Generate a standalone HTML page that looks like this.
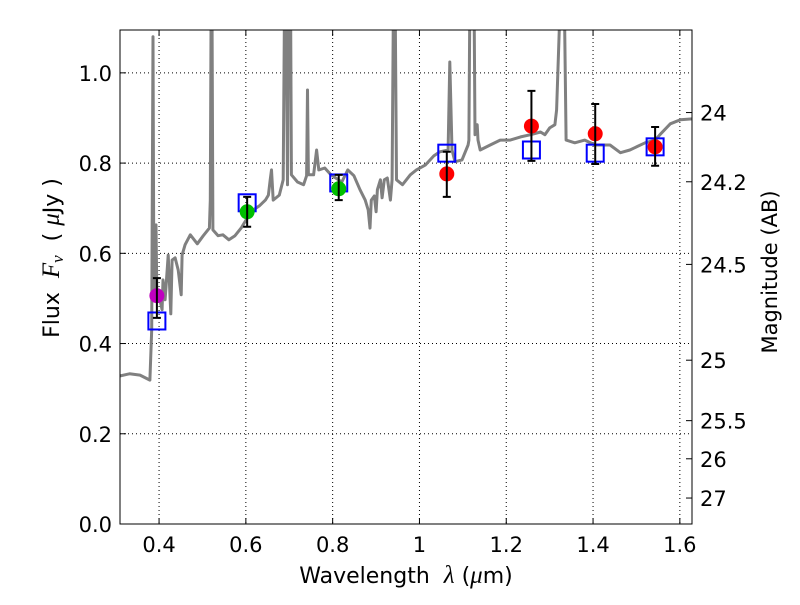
<!DOCTYPE html>
<html><head><meta charset="utf-8"><style>
body{margin:0;background:#fff}
svg text{font-family:"DejaVu Sans","Liberation Sans",sans-serif;fill:#000;white-space:pre}
</style></head><body>
<svg id="chart" width="800" height="600" xmlns="http://www.w3.org/2000/svg" xml:space="preserve">
<defs><clipPath id="clip"><rect x="120" y="30" width="572" height="494"/></clipPath></defs>
<rect width="800" height="600" fill="#fff"/>
<g id="grid"></g>
<g id="plot" clip-path="url(#clip)"></g>
<g id="marks"></g>
<rect x="120" y="30" width="572" height="494" fill="none" stroke="#000" stroke-width="1"/>
<g id="axes"></g>
<text x="406" y="583" font-size="22" text-anchor="middle">Wavelength  <tspan font-family="Liberation Serif" font-style="italic" font-size="25">λ</tspan> (<tspan font-family="Liberation Serif" font-style="italic" font-size="25">μ</tspan>m)</text>
<text transform="translate(59,258) rotate(-90)" font-size="22" text-anchor="middle">Flux  <tspan font-family="Liberation Serif" font-style="italic" font-size="25">F</tspan><tspan font-family="Liberation Serif" font-style="italic" font-size="17" dy="4">ν</tspan><tspan dy="-4">  ( </tspan><tspan font-family="Liberation Serif" font-style="italic" font-size="25">μ</tspan>Jy )</text>
<text transform="translate(777,272) rotate(-90)" font-size="21" text-anchor="middle">Magnitude (AB)</text>
</svg>
<script>
const specLam=[0.309,0.332,0.356,0.379,0.383,0.386,0.388,0.393,0.395,0.402,0.407,0.409,0.414,0.421,0.427,0.430,0.437,0.444,0.451,0.453,0.460,0.472,0.488,0.502,0.516,0.518,0.520,0.522,0.524,0.536,0.547,0.561,0.575,0.589,0.603,0.617,0.631,0.645,0.652,0.656,0.659,0.663,0.677,0.686,0.689,0.693,0.696,0.698,0.703,0.705,0.719,0.733,0.740,0.742,0.744,0.756,0.763,0.768,0.782,0.794,0.807,0.821,0.835,0.849,0.863,0.875,0.882,0.886,0.889,0.896,0.900,0.903,0.910,0.914,0.919,0.926,0.933,0.937,0.940,0.944,0.947,0.961,0.979,0.993,1.014,1.033,1.047,1.066,1.070,1.075,1.082,1.098,1.112,1.114,1.116,1.126,1.128,1.133,1.135,1.140,1.163,1.186,1.209,1.233,1.256,1.279,1.289,1.300,1.312,1.316,1.324,1.334,1.338,1.358,1.381,1.405,1.439,1.463,1.485,1.520,1.543,1.554,1.578,1.601,1.629];
const specFlux=[0.328,0.333,0.330,0.319,0.430,1.080,0.497,0.663,0.497,0.497,0.475,0.541,0.497,0.596,0.466,0.585,0.590,0.563,0.508,0.596,0.619,0.641,0.621,0.639,0.656,0.718,1.15,1.15,0.652,0.639,0.641,0.630,0.639,0.656,0.678,0.696,0.705,0.718,0.729,0.763,0.785,0.718,0.729,0.763,1.15,1.15,0.752,1.15,1.15,0.774,0.758,0.752,0.772,0.962,0.774,0.774,0.829,0.785,0.789,0.776,0.767,0.758,0.785,0.772,0.741,0.718,0.696,0.656,0.718,0.727,0.692,0.741,0.763,0.723,0.763,0.767,0.718,0.763,1.15,1.15,0.763,0.752,0.774,0.785,0.796,0.816,0.825,0.829,1.024,0.829,0.803,0.807,0.840,0.851,1.15,1.15,0.863,0.885,0.851,0.829,0.840,0.851,0.851,0.858,0.863,0.869,0.863,0.878,0.885,0.918,1.15,1.15,0.851,0.845,0.851,0.840,0.840,0.823,0.829,0.845,0.851,0.863,0.887,0.896,0.898];
const obsLam=[0.395,0.603,0.814,1.063,1.258,1.405,1.543];
const obsFlux=[0.506,0.692,0.743,0.776,0.882,0.865,0.836];
const obsErrLo=[0.049,0.033,0.025,0.051,0.077,0.067,0.042];
const obsErrHi=[0.039,0.033,0.031,0.049,0.078,0.066,0.044];
const obsColor=['#bf00bf','#00bf00','#00bf00','#ff0000','#ff0000','#ff0000','#ff0000'];
const modelLam=[0.395,0.603,0.814,1.063,1.258,1.405,1.543];
const modelFlux=[0.450,0.712,0.756,0.822,0.829,0.822,0.836];
const xTicks=[0.4,0.6,0.8,1.0,1.2,1.4,1.6];
const xTickLabels=['0.4','0.6','0.8','1','1.2','1.4','1.6'];
const yTicks=[0,0.2,0.4,0.6,0.8,1.0];
const yTickLabels=['0.0','0.2','0.4','0.6','0.8','1.0'];
const magTicks=[24,24.2,24.5,25,25.5,26,27];
const magTickLabels=['24','24.2','24.5','25','25.5','26','27'];

const X0=0.310,X1=1.628,Y0=0,Y1=1.095;
const L=120,R=692,T=30,B=524;
const sx=v=>L+(v-X0)/(X1-X0)*(R-L);
const sy=v=>B-(v-Y0)/(Y1-Y0)*(B-T);
const NS='http://www.w3.org/2000/svg';
function mk(tag,parent,attrs){const e=document.createElementNS(NS,tag);for(const k in attrs)e.setAttribute(k,attrs[k]);parent.appendChild(e);return e;}
const grid=document.getElementById('grid'),plot=document.getElementById('plot'),marks=document.getElementById('marks'),axes=document.getElementById('axes');

xTicks.forEach((t,i)=>{
  const x=sx(t);
  const g=mk('line',grid,{x1:x,x2:x,y1:T,y2:B,stroke:'#000','stroke-dasharray':'1,3','stroke-width':1});
  
  
  const tk=mk('line',axes,{x1:x,x2:x,y1:B,y2:B-6,stroke:'#000'});
  
  
  const tk2=mk('line',axes,{x1:x,x2:x,y1:T,y2:T+6,stroke:'#000'});
  
  
  const tx=mk('text',axes,{x:x,y:B+28,'font-size':21,'text-anchor':'middle'});
  tx.textContent=xTickLabels[i];
  
  
});
yTicks.forEach((t,i)=>{
  const y=sy(t);
  const g=mk('line',grid,{x1:L,x2:R,y1:y,y2:y,stroke:'#000','stroke-dasharray':'1,3','stroke-width':1});
  
  
  const tk=mk('line',axes,{x1:L,x2:L+6,y1:y,y2:y,stroke:'#000'});
  
  
  const tx=mk('text',axes,{x:L-8,y:y+8,'font-size':21,'text-anchor':'end'});
  tx.textContent=yTickLabels[i];
  
  
});
magTicks.forEach((m,i)=>{
  const y=sy(Math.pow(10,(23.9-m)/2.5));
  const tk=mk('line',axes,{x1:R,x2:R-6,y1:y,y2:y,stroke:'#000'});
  
  
  const tx=mk('text',axes,{x:R+8,y:y+8,'font-size':21});
  tx.textContent=magTickLabels[i];
  
  
});
const pts=specLam.map((l,i)=>sx(l).toFixed(1)+','+sy(specFlux[i]).toFixed(1)).join(' ');
const pl=mk('polyline',plot,{points:pts,fill:'none',stroke:'#808080','stroke-width':3,'stroke-linejoin':'round'});



modelLam.forEach((l,i)=>{
  const x=sx(l),y=sy(modelFlux[i]);
  const r=mk('rect',marks,{x:x-8.5,y:y-8.5,width:17,height:17,fill:'none',stroke:'#0000ff','stroke-width':2});
  
  
});
obsLam.forEach((l,i)=>{
  const x=sx(l),y=sy(obsFlux[i]);
  const c=mk('circle',marks,{cx:x,cy:y,r:7.5,fill:obsColor[i]});
  
  
  const y1=sy(obsFlux[i]+obsErrHi[i]),y2=sy(obsFlux[i]-obsErrLo[i]);
  const e=mk('path',marks,{d:`M${x},${y1}V${y2}M${x-4},${y1}H${x+4}M${x-4},${y2}H${x+4}`,stroke:'#000','stroke-width':2,fill:'none'});
  
  
});
</script>
</body></html>
